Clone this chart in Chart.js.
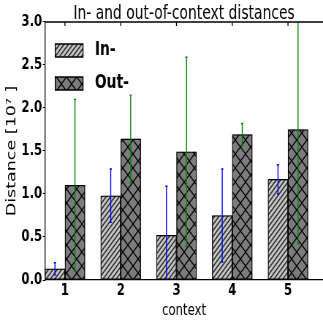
<!DOCTYPE html>
<html>
<head>
<meta charset="utf-8">
<script src="https://cdn.jsdelivr.net/npm/chart.js@4/dist/chart.umd.min.js"></script>
<style>
html,body{margin:0;padding:0;overflow:hidden;background:#fff;}
#wrap{width:442px;height:322px;transform:scaleX(0.730769);transform-origin:0 0;}
</style>
</head>
<body>
<div id="wrap"><canvas id="c" width="442" height="322"></canvas></div>
<script>
// ---- data ----
const categories = [1, 2, 3, 4, 5];
const inValues   = [0.13, 0.98, 0.52, 0.75, 1.17];
const inErrors   = [0.07, 0.31, 0.57, 0.54, 0.17];
const outValues  = [1.10, 1.64, 1.49, 1.69, 1.75];
const outErrors  = [1.00, 0.51, 1.10, 0.13, 1.33];
const yTicks     = [0, 0.5, 1.0, 1.5, 2.0, 2.5, 3.0];

// ---- hatch patterns ----
function stripePattern() {
  const p = 6, cv = document.createElement('canvas');
  cv.width = p; cv.height = p;
  const g = cv.getContext('2d');
  g.fillStyle = '#c4c4c4'; g.fillRect(0, 0, p, p);
  g.strokeStyle = '#2a2a2a'; g.lineWidth = 1.5;
  g.beginPath();
  g.moveTo(-1, p + 1); g.lineTo(p + 1, -1);
  g.moveTo(-1, 1); g.lineTo(1, -1);
  g.moveTo(p - 1, p + 1); g.lineTo(p + 1, p - 1);
  g.stroke();
  return g.createPattern(cv, 'repeat');
}
function crossPattern() {
  const p = 14, cv = document.createElement('canvas');
  cv.width = p; cv.height = p;
  const g = cv.getContext('2d');
  g.fillStyle = '#7c7c7c'; g.fillRect(0, 0, p, p);
  g.strokeStyle = '#000'; g.lineWidth = 1.3;
  g.beginPath();
  g.moveTo(-1, -1); g.lineTo(p + 1, p + 1);
  g.moveTo(-1, p + 1); g.lineTo(p + 1, -1);
  g.stroke();
  return g.createPattern(cv, 'repeat');
}
const ctx0 = document.getElementById('c').getContext('2d');

const chartPlugins = {
  id: 'extras',
  beforeDatasetsDraw(chart) {
    const c = chart.ctx;
    c.save();
    c.shadowColor = 'rgba(0,0,0,0.28)';
    c.shadowOffsetX = 3;
    c.shadowOffsetY = 0;
    c.shadowBlur = 0;
  },
  afterDatasetsDraw(chart) {
    const c = chart.ctx;
    c.restore();
    const {chartArea, scales: {y}} = chart;
    c.save();
    c.beginPath();
    c.rect(chartArea.left, chartArea.top, chartArea.width, chartArea.height);
    c.clip();
    chart.data.datasets.forEach((ds, di) => {
      const meta = chart.getDatasetMeta(di);
      meta.data.forEach((bar, i) => {
        const v = ds.data[i].y, e = ds.errors[i];
        const x = bar.x;
        const yt = y.getPixelForValue(v + e), yb = y.getPixelForValue(v - e);
        c.strokeStyle = ds.errorColor;
        c.lineWidth = 1.4;
        c.beginPath();
        c.moveTo(x, yt); c.lineTo(x, yb);
        c.moveTo(x - 1.5, yt); c.lineTo(x + 1.5, yt);
        c.moveTo(x - 1.5, yb); c.lineTo(x + 1.5, yb);
        c.stroke();
      });
    });
    c.restore();
  },
  afterDraw(chart) {
    const c = chart.ctx, a = chart.chartArea, xs = chart.scales.x;
    c.save();
    c.strokeStyle = '#000';
    c.lineWidth = 1.3;
    c.beginPath();
    c.moveTo(a.left, a.top); c.lineTo(a.right, a.top);
    categories.forEach(v => {
      const px = xs.getPixelForValue(v);
      c.moveTo(px, a.top); c.lineTo(px, a.top + 4);
    });
    c.stroke();
    c.restore();
  }
};

new Chart(ctx0, {
  type: 'bar',
  data: {
    datasets: [
      {
        label: 'In-',
        data: categories.map((c, i) => ({x: c, y: inValues[i]})),
        errors: inErrors,
        errorColor: '#0000ff',
        backgroundColor: stripePattern(),
        borderColor: '#000',
        borderWidth: 1.3,
        borderSkipped: false,
        barThickness: 27.4
      },
      {
        label: 'Out-',
        data: categories.map((c, i) => ({x: c, y: outValues[i]})),
        errors: outErrors,
        errorColor: '#008000',
        backgroundColor: crossPattern(),
        borderColor: '#000',
        borderWidth: 1.3,
        borderSkipped: false,
        barThickness: 27.4
      }
    ]
  },
  options: {
    responsive: false,
    devicePixelRatio: 1,
    animation: false,
    layout: {padding: 0},
    plugins: {
      title: {
        display: true,
        text: 'In- and out-of-context distances',
        fullSize: false,
        color: '#000',
        font: {family: 'DejaVu Sans', size: 19, weight: 'normal', lineHeight: 0.82},
        padding: {top: 6.4, bottom: 0}
      },
      legend: {
        position: 'chartArea',
        align: 'start',
        title: {
          display: true,
          text: ' ',
          font: {size: 20, lineHeight: 1},
          padding: {top: 0, bottom: 7}
        },
        labels: {
          color: '#000',
          font: {family: 'DejaVu Sans', size: 19, weight: 'bold'},
          boxWidth: 38,
          boxHeight: 13,
          padding: 14,
          generateLabels: chart => Chart.defaults.plugins.legend.labels.generateLabels(chart)
            .map(it => Object.assign(it, {text: ' ' + it.text}))
        }
      },
      tooltip: {enabled: false}
    },
    scales: {
      x: {
        type: 'linear',
        min: 0.642,
        max: 5.628,
        offset: false,
        grid: {display: true, drawOnChartArea: false, drawTicks: false, offset: false, color: '#000'},
        border: {display: true, color: '#000', width: 1.3},
        afterBuildTicks: s => { s.ticks = categories.map(v => ({value: v})); },
        afterFit: s => { s.height = 42; },
        ticks: {
          color: '#000',
          padding: 1,
          font: {family: 'DejaVu Sans', size: 16, weight: 'bold'},
          callback: v => String(v)
        },
        title: {
          display: true,
          text: 'context',
          color: '#000',
          font: {family: 'DejaVu Sans', size: 16, weight: 'normal'},
          padding: {top: 0, bottom: 1.5}
        }
      },
      y: {
        type: 'linear',
        min: 0,
        max: 3,
        grid: {display: true, drawOnChartArea: false, drawTicks: true, tickLength: 3, color: '#000'},
        border: {display: true, color: '#000', width: 1.3},
        afterBuildTicks: s => { s.ticks = yTicks.map(v => ({value: v})); },
        afterFit: s => { s.width = 61.6; },
        ticks: {
          color: '#000',
          padding: 1,
          font: {family: 'DejaVu Sans', size: 16, weight: 'bold'},
          callback: v => Number(v).toFixed(1)
        },
        title: {
          display: true,
          text: 'Distance [10⁷ ]',
          color: '#000',
          font: {family: 'DejaVu Sans', size: 17.5, weight: 'normal'},
          padding: {top: 6, bottom: 0}
        }
      }
    }
  },
  plugins: [chartPlugins]
});
</script>
</body>
</html>
